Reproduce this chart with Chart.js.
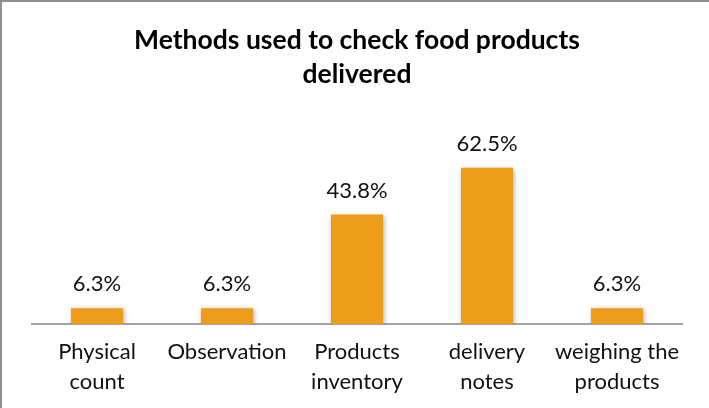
<!DOCTYPE html>
<html>
<head>
<meta charset="utf-8">
<script src="https://cdn.jsdelivr.net/npm/chart.js@4.4.1/dist/chart.umd.min.js"></script>
<style>
  html, body { margin: 0; padding: 0; background: #fff; }
  .frame {
    width: 709px; height: 408px;
    box-sizing: border-box;
    border-top: 2px solid #8f8f8f;
    border-left: 2px solid #8f8f8f;
    background: #fff;
  }
  canvas { display: block; }
</style>
</head>
<body>
<div class="frame">
  <canvas id="methodsChart" width="707" height="406"></canvas>
</div>
<script>
// Dados do gráfico
const categories = [
    ['Physical', 'count'],
    ['Observation'],
    ['Products', 'inventory'],
    ['delivery', 'notes'],
    ['weighing the', 'products']
];
const percentages = [6.3, 6.3, 43.8, 62.5, 6.3];
const titleLines = ['Methods used to check food products', 'delivered'];

const FONT = 'Lato, "Open Sans", sans-serif';

// Rótulos em cima das barras
const barLabels = {
    id: 'barLabels',
    afterDatasetsDraw(chart) {
        const ctx = chart.ctx;
        const meta = chart.getDatasetMeta(0);
        ctx.save();
        ctx.font = '22px ' + FONT;
        ctx.fillStyle = '#111';
        ctx.textAlign = 'center';
        ctx.textBaseline = 'middle';
        meta.data.forEach((bar, i) => {
            ctx.fillText(percentages[i].toFixed(1) + '%', bar.x, bar.y - 24);
        });
        ctx.restore();
    }
};

// Sombra leve nas barras
const barShadow = {
    id: 'barShadow',
    beforeDatasetDraw(chart) {
        const ctx = chart.ctx;
        ctx.save();
        ctx.shadowColor = 'rgba(0,0,0,0.35)';
        ctx.shadowBlur = 5;
        ctx.shadowOffsetX = 1;
        ctx.shadowOffsetY = 1;
    },
    afterDatasetDraw(chart) {
        chart.ctx.restore();
    }
};

const chartCanvas = document.getElementById('methodsChart');
if (chartCanvas) {
    const ctx = chartCanvas.getContext('2d');
    new Chart(ctx, {
        type: 'bar',
        data: {
            labels: categories,
            datasets: [{
                data: percentages,
                backgroundColor: '#ED9C1C',
                categoryPercentage: 1,
                barPercentage: 0.4
            }]
        },
        options: {
            responsive: false,
            animation: false,
            layout: {
                padding: { left: 30, right: 27, top: 0, bottom: -2 }
            },
            plugins: {
                legend: { display: false },
                tooltip: { enabled: false },
                title: {
                    display: true,
                    text: titleLines,
                    color: '#000',
                    font: { family: FONT, size: 26.5, weight: 'bold', lineHeight: '34px' },
                    padding: { top: 21, bottom: 33 }
                }
            },
            scales: {
                x: {
                    grid: { display: false, drawTicks: false },
                    border: { display: true, color: '#a3a3a3', width: 2 },
                    ticks: {
                        color: '#111',
                        padding: 13,
                        maxRotation: 0,
                        autoSkip: false,
                        font: { family: FONT, size: 22, lineHeight: '30px' }
                    }
                },
                y: {
                    display: false,
                    min: 0,
                    max: 80
                }
            }
        },
        plugins: [barShadow, barLabels]
    });
}
</script>
</body>
</html>
